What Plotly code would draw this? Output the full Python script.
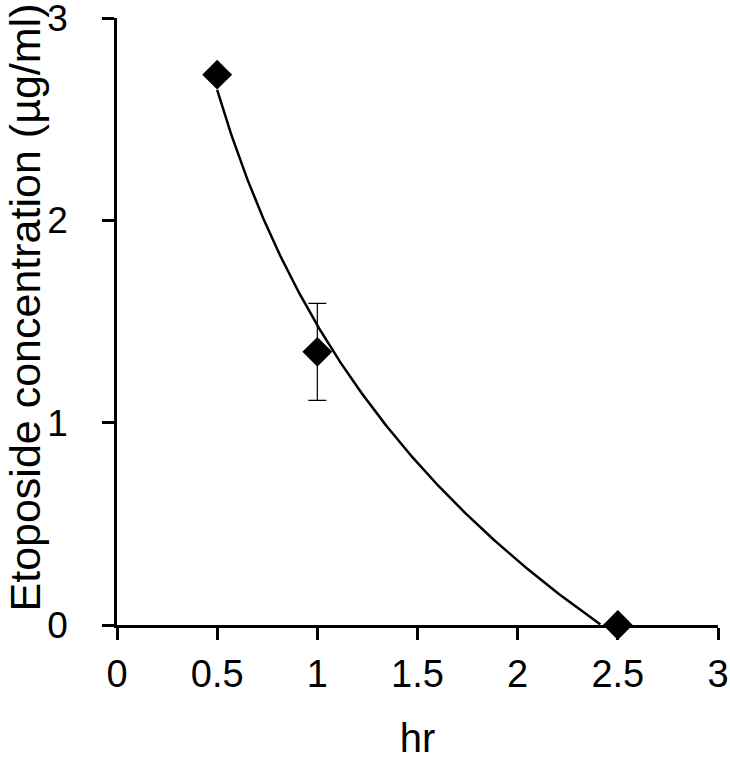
import numpy as np
import plotly.graph_objects as go

hours = [0.5, 1.0, 2.5]
concentration = [2.72, 1.35, 0.0]
conc_error = [0.0, 0.24, 0.0]

x_ticks = [0, 0.5, 1, 1.5, 2, 2.5, 3]
x_tick_labels = ["0", "0.5", "1", "1.5", "2", "2.5", "3"]
y_ticks = [0, 1, 2, 3]
y_tick_labels = ["0", "1", "2", "3"]

x_title = "hr"
y_title = "Etoposide concentration (µg/ml)"

# logarithmic trendline fitted to the data (y = a*ln(x) + b)
a, b = np.polyfit(np.log(hours), concentration, 1)
xf = np.linspace(min(hours), max(hours), 300)
yf = a * np.log(xf) + b
mask = yf >= 0
xf, yf = xf[mask], yf[mask]

fig = go.Figure()
fig.add_trace(go.Scatter(
    x=xf, y=yf, mode="lines",
    line=dict(color="black", width=2.5),
    hoverinfo="skip", showlegend=False,
))
fig.add_trace(go.Scatter(
    x=hours, y=concentration, mode="markers",
    marker=dict(symbol="diamond", size=23, color="black"),
    error_y=dict(type="data", array=conc_error, visible=True,
                 color="black", thickness=1.2, width=9),
    showlegend=False, cliponaxis=False,
))

font = "Liberation Sans, Arial, sans-serif"
fig.update_layout(
    width=730, height=761,
    margin=dict(l=117, r=12, t=18, b=136),
    plot_bgcolor="white", paper_bgcolor="white",
    font=dict(family=font, size=37, color="black"),
    xaxis=dict(
        range=[0, 3], tickvals=x_ticks, ticktext=x_tick_labels,
        showline=True, linecolor="black", linewidth=2.5,
        ticks="outside", ticklen=12, tickwidth=2.5, tickcolor="black",
        showgrid=False, zeroline=False, automargin=False,
        tickfont=dict(size=38), ticklabelstandoff=2, ticklabeloverflow="allow",
        title=dict(text=x_title, font=dict(size=40), standoff=30),
    ),
    yaxis=dict(
        range=[0, 3], tickvals=y_ticks, ticktext=y_tick_labels,
        showline=True, linecolor="black", linewidth=2.5,
        ticks="outside", ticklen=12, tickwidth=2.5, tickcolor="black",
        showgrid=False, zeroline=False, automargin=False,
        tickfont=dict(size=37), ticklabelstandoff=27, ticklabeloverflow="allow",
    ),
    annotations=[dict(
        text=y_title, textangle=-90, showarrow=False,
        xref="paper", yref="paper", x=0, y=0.5,
        xanchor="center", yanchor="middle",
        xshift=-93, yshift=14,
        font=dict(size=43, family=font, color="black"),
    )],
)
fig.write_html(
    "out.html",
    config={"displayModeBar": False},
    post_script="document.body.style.margin='0';document.body.style.padding='0';",
)
